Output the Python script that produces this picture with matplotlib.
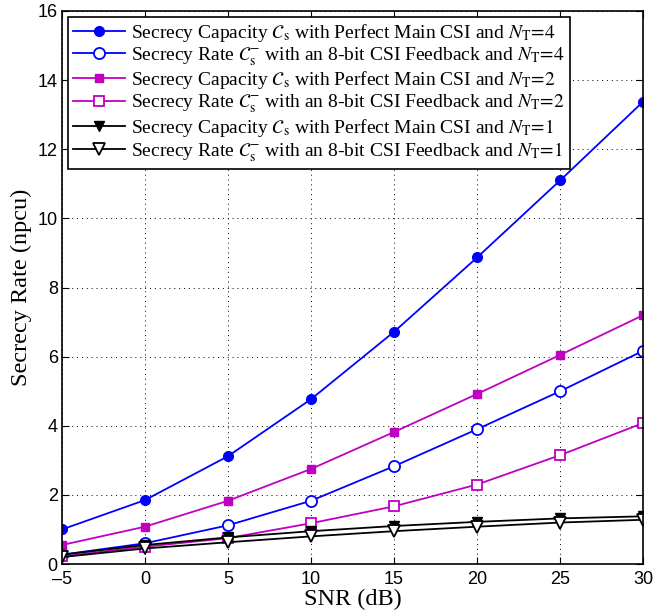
import numpy as np
import matplotlib.pyplot as plt

plt.rcParams['mathtext.fontset'] = 'stix'

snr = [-5, 0, 5, 10, 15, 20, 25, 30]

cap4 = [1.0, 1.85, 3.12, 4.77, 6.72, 8.87, 11.1, 13.38]
rate4 = [0.27, 0.6, 1.12, 1.83, 2.83, 3.9, 5.0, 6.17]
cap2 = [0.55, 1.08, 1.83, 2.75, 3.82, 4.92, 6.05, 7.2]
rate2 = [0.22, 0.5, 0.75, 1.18, 1.67, 2.3, 3.15, 4.08]
cap1 = [0.27, 0.55, 0.77, 0.95, 1.1, 1.22, 1.32, 1.38]
rate1 = [0.2, 0.45, 0.63, 0.8, 0.95, 1.08, 1.2, 1.28]

lab_cap = r"Secrecy Capacity $\mathcal{C}_\mathrm{s}$ with Perfect Main CSI and $N_\mathrm{T}\!=\!%d$"
lab_rate = r"Secrecy Rate $\mathcal{C}_\mathrm{s}^{-}$ with an 8-bit CSI Feedback and $N_\mathrm{T}\!=\!%d$"

fig = plt.figure(figsize=(6.7, 6.14), dpi=100)
ax = fig.add_axes([0.0925, 0.0814, 0.8675, 0.9007])

ax.plot(snr, cap4, '-o', color='#0000ff', lw=1.3, ms=7, label=lab_cap % 4)
ax.plot(snr, rate4, '-o', color='#0000ff', lw=1.3, ms=8, mfc='white', mew=1.3, label=lab_rate % 4)
ax.plot(snr, cap2, '-s', color='#c000c0', lw=1.3, ms=5.5, label=lab_cap % 2)
ax.plot(snr, rate2, '-s', color='#c000c0', lw=1.3, ms=6.5, mfc='white', mew=1.3, label=lab_rate % 2)
ax.plot(snr, cap1, '-v', color='black', lw=1.3, ms=7.5, label=lab_cap % 1)
ax.plot(snr, rate1, '-v', color='black', lw=1.3, ms=8.5, mfc='white', mew=1.3, label=lab_rate % 1)

ax.set_xlim(-5, 30)
ax.set_ylim(0, 16)
ax.set_xticks(range(-5, 31, 5))
ax.set_yticks(range(0, 17, 2))
ax.set_xticklabels(['\u20135'] + [str(v) for v in range(0, 31, 5)])
ax.tick_params(direction='in', top=True, right=True, labelsize=13, length=5, pad=3)
ax.tick_params(axis='x', pad=5)
for t in ax.get_xticklabels() + ax.get_yticklabels():
    t.set_fontfamily('Liberation Sans')
ax.grid(True, linestyle=(0, (1, 4)), color='black', lw=0.7)
for s in ax.spines.values():
    s.set_linewidth(1.2)

ax.set_xlabel('SNR (dB)', fontsize=17.5, family='Liberation Serif', labelpad=1)
ax.set_ylabel('Secrecy Rate (npcu)', fontsize=17.5, family='Liberation Serif', labelpad=4)

leg = ax.legend(loc='upper left', prop={'family': 'Liberation Serif', 'size': 14},
                fancybox=False, edgecolor='black', framealpha=1, handlelength=2.7,
                borderaxespad=0.3, labelspacing=0.08, handletextpad=0.3, borderpad=0.25)
leg.get_frame().set_linewidth(1.2)

fig.savefig('out.png', dpi=100)
